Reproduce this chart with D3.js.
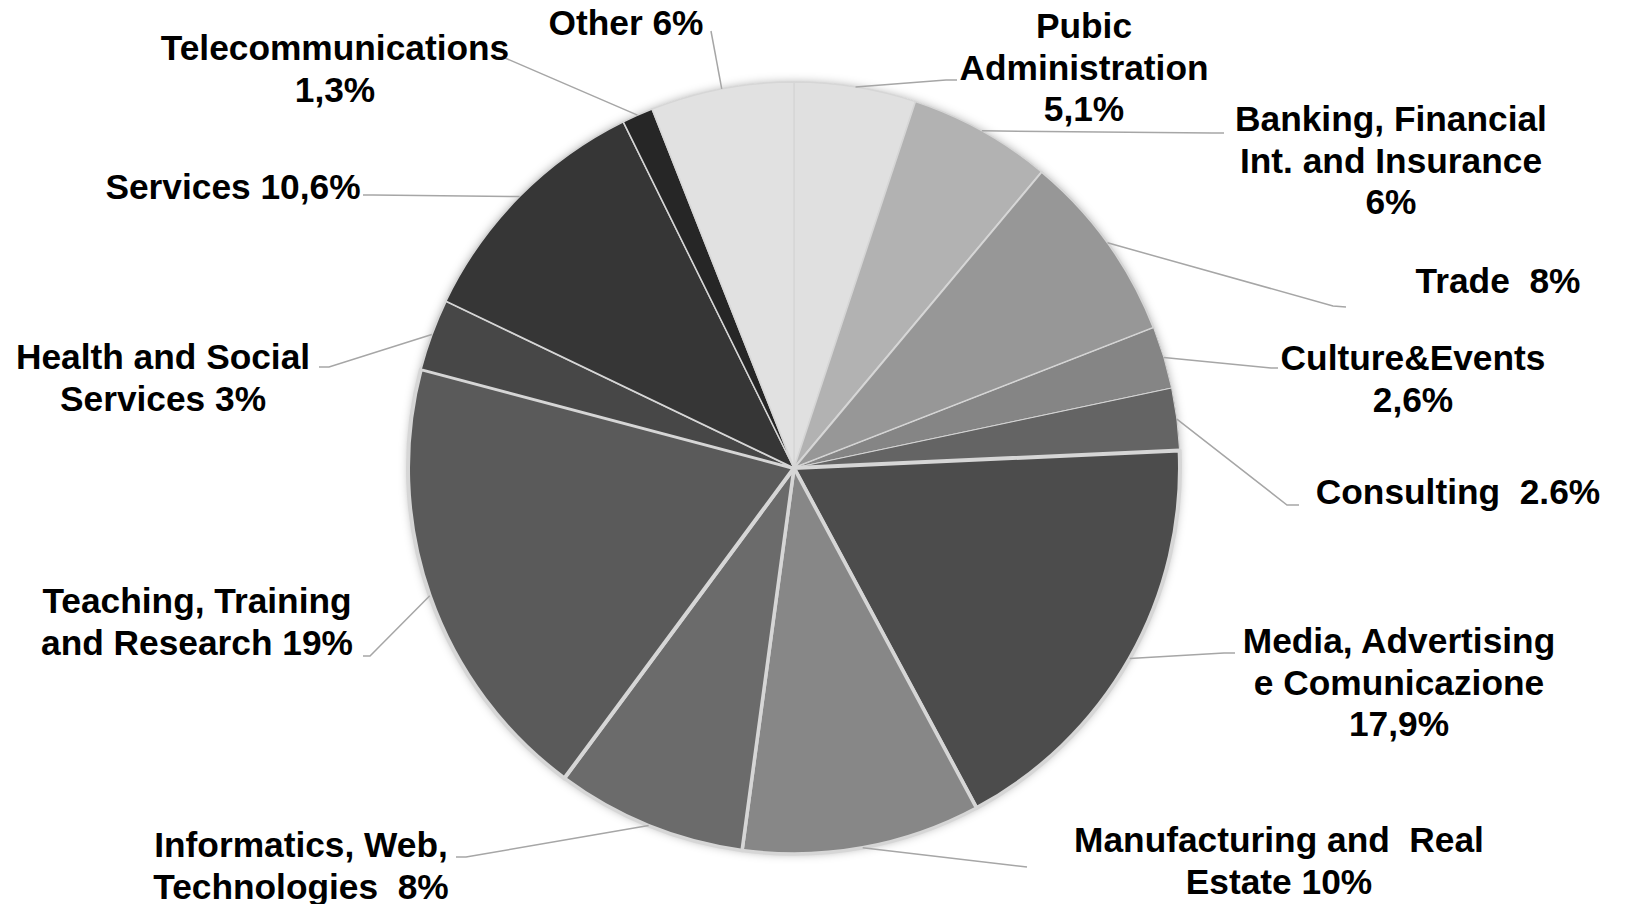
<!DOCTYPE html>
<html>
<head>
<meta charset="utf-8">
<script src="https://cdn.jsdelivr.net/npm/d3@7"></script>
<style>
  html, body { margin: 0; padding: 0; background: #fff; }
  svg { display: block; }
  text { font-family: "Liberation Sans", Arial, sans-serif; font-weight: bold; white-space: pre; }
</style>
</head>
<body>
<svg id="chart" width="1627" height="904"></svg>
<script>
// ---- data ----
const categories = [
  "Pubic Administration", "Banking, Financial Int. and Insurance", "Trade",
  "Culture&Events", "Consulting", "Media, Advertising e Comunicazione",
  "Manufacturing and Real Estate", "Informatics, Web, Technologies",
  "Teaching, Training and Research", "Health and Social Services",
  "Services", "Telecommunications", "Other"
];
const values = [5.1, 6, 8, 2.6, 2.6, 17.9, 10, 8, 19, 3, 10.6, 1.3, 6];
const labelLines = [
  ["Pubic", "Administration", "5,1%"],
  ["Banking, Financial", "Int. and Insurance", "6%"],
  ["Trade  8%"],
  ["Culture&Events", "2,6%"],
  ["Consulting  2.6%"],
  ["Media, Advertising", "e Comunicazione", "17,9%"],
  ["Manufacturing and  Real", "Estate 10%"],
  ["Informatics, Web,", "Technologies  8%"],
  ["Teaching, Training", "and Research 19%"],
  ["Health and Social", "Services 3%"],
  ["Services 10,6%"],
  ["Telecommunications", "1,3%"],
  ["Other 6%"]
];

// ---- styles / layout ----
const fills = ["#e0e0e0", "#b2b2b2", "#979797", "#858585", "#646464", "#4c4c4c",
               "#878787", "#6b6b6b", "#5a5a5a", "#474747", "#363636", "#262626", "#e1e1e1"];
const borderW = [1.5, 1.5, 2, 1, 1, 4, 3.5, 3.5, 4, 2, 1.5, 1.5, 1.5];
// label text anchor (center x, first baseline y) and leader elbow/end points
const labelPos = [
  {x: 1084, y: 38,  elbow: [946, 80],   end: [957, 80]},
  {x: 1391, y: 131, elbow: [1212, 133], end: [1224, 133]},
  {x: 1498, y: 293, elbow: [1333, 306], end: [1346, 307]},
  {x: 1413, y: 370, elbow: [1271, 368], end: [1278, 368]},
  {x: 1458, y: 504, elbow: [1287, 505], end: [1299, 505]},
  {x: 1399, y: 653, elbow: [1224, 653], end: [1235, 653]},
  {x: 1279, y: 852, elbow: [1027, 867], end: [1027, 867]},
  {x: 301,  y: 857, elbow: [466, 857],  end: [456, 857]},
  {x: 197,  y: 613, elbow: [370, 656],  end: [363, 656]},
  {x: 163,  y: 369, elbow: [329, 367],  end: [319, 367]},
  {x: 233,  y: 199, elbow: [373, 195],  end: [363, 195]},
  {x: 335,  y: 60,  elbow: [505, 58],   end: [495, 58]},
  {x: 626,  y: 35,  elbow: [711, 31],   end: [711, 31]}
];
const cx = 794, cy = 468, R = 386;
const fontSize = 35.3, lineH = 41.5;

const svg = d3.select("#chart");
const defs = svg.append("defs");
const f = defs.append("filter").attr("id", "shadow")
  .attr("x", "-10%").attr("y", "-10%").attr("width", "120%").attr("height", "120%");
f.append("feDropShadow").attr("dx", 0).attr("dy", 0).attr("stdDeviation", 5)
  .attr("flood-color", "#000").attr("flood-opacity", 0.3);

const data = categories.map((c, i) => ({name: c, value: values[i], i}));
const pie = d3.pie().value(d => d.value).sort(null);
const arcs = pie(data);
const arc = d3.arc().innerRadius(0).outerRadius(R);

const g = svg.append("g").attr("transform", `translate(${cx},${cy})`);
g.append("circle").attr("r", R).attr("fill", "#ddd").attr("filter", "url(#shadow)");
g.selectAll("path.slice").data(arcs).enter().append("path")
  .attr("class", "slice")
  .attr("d", arc)
  .attr("fill", d => fills[d.data.i])
  .attr("stroke", "#d6d6d6")
  .attr("stroke-width", d => borderW[d.data.i])
  .attr("stroke-linejoin", "round");

// leader lines
const lines = svg.append("g");
arcs.forEach(d => {
  const mid = (d.startAngle + d.endAngle) / 2;
  const p0 = [cx + R * Math.sin(mid), cy - R * Math.cos(mid)];
  const lp = labelPos[d.data.i];
  lines.append("path")
    .attr("d", d3.line()([p0, lp.elbow, lp.end]))
    .attr("fill", "none").attr("stroke", "#a6a6a6").attr("stroke-width", 1.5);
});

// labels
const lg = svg.append("g");
arcs.forEach(d => {
  const lp = labelPos[d.data.i];
  const t = lg.append("text").attr("text-anchor", "middle")
    .attr("font-size", fontSize).attr("fill", "#000");
  labelLines[d.data.i].forEach((ln, k) => {
    t.append("tspan").attr("x", lp.x).attr("y", lp.y + k * lineH).text(ln);
  });
});
</script>
</body>
</html>
